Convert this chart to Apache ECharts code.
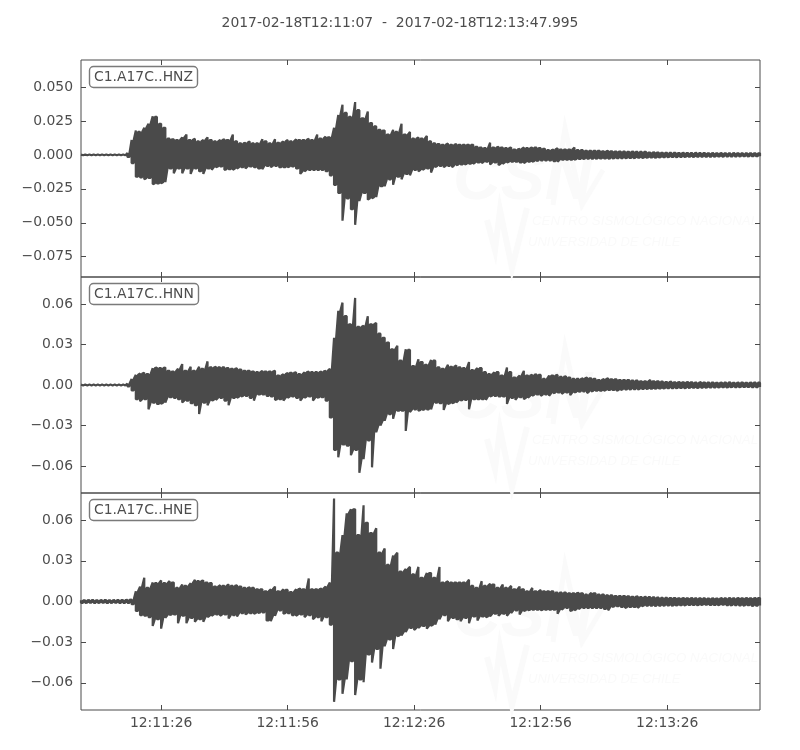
<!DOCTYPE html>
<html><head><meta charset="utf-8">
<style>html,body{margin:0;padding:0;background:#fff}#c{width:800px;height:750px}</style>
<script src="https://cdn.jsdelivr.net/npm/echarts@6/dist/echarts.min.js"></script>
</head><body><div id="c"></div>
<script>
// Upper and lower extent of each trace, one pair per second from 12:11:07, in thousandths.
const hnzUpper = [.3,.3,.3,.3,.3,.3,.3,.3,.3,.3,.3,
1.5,11,18,17,20,23,28.5,28,23,20,12,11.5,11,13,15,11,12,10,11,13,11,10,11,11.5,11,15,10,8.5,9,10,8.5,8.5,11.5,10,8.5,11.5,9,10,11,10,11.5,11,11,12,11,15,12,13.5,13,20,29.5,37,31,28,39,33,27,32,23.5,21,18.5,18,15,18.5,17,23,15,17,12,13,
12,14,10,8.5,8,7.5,8.5,7.5,8,7.5,7.5,7.5,7.5,6,5.5,5,9,5.5,6,5.5,5,5.5,4,4.5,5.5,5,5.5,5.5,5,4.5,3.5,4,5,4,4,4,5.5,3.5,3.5,3,3,3,3,2.7,3,2.7,2.5,2.5,2.4,2.3,2.5,2.2,2.2,2.3,1.8,2,1.8,1.6,1.6,1.5,1.6,1.4,1.5,1.4,1.3,1.5,1.3,1.4,1.2,1.3,1.2,1.3,1.2,1.1,1.3,1.2,1.1,1.2,1.2,1.2];
const hnzLower = [-.3,-.3,-.3,-.3,-.3,-.3,-.3,-.3,-.3,-.3,-.3,
-1.5,-6,-16,-16.5,-18,-17,-21.5,-21,-21,-20,-10,-13.5,-10,-13.5,-10,-14,-10,-12,-14,-10,-11,-9,-8.5,-11,-10.5,-11,-10,-9,-10,-8.5,-9,-10,-10.5,-8,-9,-8,-9,-9,-9,-8.5,-10,-14,-12,-11,-11,-11,-11,-12,-15,-22,-28,-48.5,-32,-40,-51.5,-34,-28,-33,-32,-31,-23,-23,-18,-22,-16,-18,-14,-15,-11,-12,
-11,-10,-13,-9,-8,-9,-8,-9,-7.5,-7,-7,-6.5,-6.5,-5.5,-6,-5,-7,-5.5,-7.5,-6.5,-5.5,-5,-5,-5.5,-6,-5,-5,-4.5,-4,-4,-4,-4.5,-5,-3.5,-3.5,-3.5,-3.5,-3,-3,-2.7,-2.7,-2.7,-2.6,-2.6,-2.7,-2.5,-2.4,-2.3,-2.3,-2.2,-2.3,-2,-2.1,-2,-1.9,-2,-1.8,-1.7,-1.6,-1.5,-1.6,-1.4,-1.5,-1.3,-1.4,-1.3,-1.2,-1.3,-1.2,-1.2,-1.1,-1.2,-1,-1.1,-1,-1,-.9,-1,-.9,-.9,-.9];
const hnnUpper = [.3,.3,.3,.3,.3,.3,.3,.3,.3,.3,.3,
1,4.5,7.5,8.5,9,8,12.5,13,12.5,13,10.5,10,12,15.5,10.5,13.5,10.5,13.5,12,17.5,13,13.5,13,13,12.5,12,12.3,11.5,10.5,10.5,10,9.5,10.5,10,10,10.5,7,8,9,9,9.5,8,9.5,10,9.5,9.5,10,10.5,12,35,55,61,51,45,64.5,43,44,51,45,46,38,35,31.5,26.5,29,18,26.5,26,14,19,
17,15,18.5,18,13,12,15,13.5,14.5,13,12.5,17,11,12.5,12.5,9.5,8,9.5,9.5,7,13,9.5,5.5,7,10.5,7,7.5,8,7.5,4.5,7,7,7.5,6,6.5,5.5,4.5,4.5,5,5.5,5,4.5,3.7,4.5,5,4.2,4.2,3.7,3.7,3.7,3.2,3.2,2.7,2.7,3.7,2.7,2.7,2.5,2.2,2.5,2,2.2,2,2.2,2,1.7,2.2,1.8,1.7,1.8,1.6,1.8,1.7,1.9,1.6,1.7,1.8,1.6,1.8,1.7];
const hnnLower = [-.3,-.3,-.3,-.3,-.3,-.3,-.3,-.3,-.3,-.3,-.3,
-1,-4,-10.5,-12,-10.5,-18,-13,-14,-14,-13,-9,-9.5,-10.5,-13,-11.5,-13.5,-15,-21.5,-13,-15,-11.5,-11,-9.5,-11.5,-15,-9.5,-9.5,-8.5,-8,-9.5,-11.5,-7,-7,-8,-8.5,-11,-10.5,-11.5,-9.5,-8.5,-9.5,-11.5,-9.5,-8.5,-11.5,-9.5,-9,-11.5,-24,-48,-53.5,-44,-45,-52,-48,-65,-55,-41,-61,-35,-30,-26.5,-21.5,-25,-19,-19,-34,-20,-18,-19,
-18.5,-18,-18,-13,-13.5,-18.5,-14,-13.5,-13,-11.5,-11,-18,-10.5,-10.5,-10.5,-11,-8.5,-8,-8.5,-8.5,-14,-9.5,-11,-9,-10.5,-9.5,-8,-7,-8,-7,-8,-6,-5.5,-6.5,-5.5,-7.5,-5.5,-5,-4.7,-6,-4.7,-4.2,-4.2,-4.2,-3.7,-3.7,-4.2,-3.7,-3.2,-3.2,-3,-3.2,-2.9,-2.8,-2.7,-2.8,-2.5,-2.6,-2.4,-2.3,-2.4,-2.2,-2.3,-2.1,-2,-2.2,-1.9,-2,-1.8,-1.7,-1.8,-1.6,-1.7,-1.6,-1.5,-1.6,-1.5,-1.4,-1.5,-1.5,-1.4];
const hneUpper = [1,.9,1.1,1,.9,1,1.1,.9,1,1,1.1,
1.2,1.5,7.5,11,17.5,10,14,13.5,15.5,13.5,15,14,10,12.5,11.5,13.5,16,15,15.5,14,13.5,11,12,11.5,12.5,11.5,12,11,10,10.5,10,9,9,7.5,9,11,7.5,9,8.5,7,9,9.5,9,17,9,9,9.5,11,14,76,36,49,65,68,68,49,71,58,50.5,54,36,39,27,34,36,22,24,25.5,20,25.5,
17.5,21,21,17.5,25.5,14,15,14,14,14,14,16,11.5,10,15,11.5,13,12.5,10,12.5,10,11.5,9,11,9,7.5,10,7.5,8.5,7.5,7.5,7.5,6.5,6.5,6.5,6,6,6.5,6,5,6.5,6,5,5,4.5,4.5,4,4,4,3.8,3.5,3.8,3.2,3.4,3.2,3,2.8,2.6,2.6,2.5,2.6,2.4,2.5,2.4,2.5,2.3,2.4,2.3,2.2,2.4,2.2,2.5,2.3,2.6,2.3,2.5,2.4,2.6,2.4,2.5];
const hneLower = [-1,-1.1,-.9,-1,-1,-.9,-1.1,-1,-.9,-1,-1,
-1,-2,-7,-10,-10.5,-11.5,-18,-13,-20,-12,-10,-9.5,-16,-10.5,-16,-12,-15,-13,-15,-11.5,-10.5,-9.5,-10.5,-9.5,-12.5,-10,-11,-8.5,-9.5,-8.5,-9,-8.5,-8,-14,-14.5,-10.5,-6.5,-9,-8.5,-10,-10.5,-9.5,-11.5,-10,-13,-11.5,-14.5,-11.5,-17,-74,-57.5,-68,-57.5,-44,-69,-57.5,-59.5,-39,-45,-35,-49.5,-33,-28,-35,-25.5,-25,-22.5,-19.5,-21,-19.5,
-18,-20,-18,-17,-13,-10,-14.5,-12,-13,-14.5,-12,-16,-11,-14,-11,-11.5,-11,-9,-10.5,-9,-10.5,-8.5,-6.5,-9.5,-7,-6.5,-6,-6,-6.5,-6,-6,-6,-9,-6,-4.7,-7,-6.5,-5.5,-4.7,-4.7,-4.7,-4.7,-4.7,-5.5,-6.5,-4,-3.5,-4,-4.7,-4,-4,-4.7,-3.5,-3,-3,-3.2,-3,-3,-2.8,-3,-2.9,-2.7,-2.8,-2.6,-2.5,-2.7,-2.5,-2.4,-2.6,-2.5,-2.7,-2.4,-2.6,-2.9,-2.6,-2.8,-3,-2.7,-3.2,-3];

const traceNames = ['C1.A17C..HNZ','C1.A17C..HNN','C1.A17C..HNE'];
const timeRange = '2017-02-18T12:11:07  -  2017-02-18T12:13:47.995';
const timeTicks = [19,49,79,109,139];
const timeLabels = ['12:11:26','12:11:56','12:12:26','12:12:56','12:13:26'];
const yTicksZ = [0.05,0.025,0,-0.025,-0.05,-0.075];
const yTicksNE = [0.06,0.03,0,-0.03,-0.06];

const INK='#4a4a4a', TEXT='#4d4d4d', FONT='"DejaVu Sans"', WM='#fafafa', FS=13.9;
const MILLI=0.001, END=160.995;
const panels=[
 {top:60,height:217,min:-0.09,max:0.07,ticks:yTicksZ,dec:3,up:hnzUpper,lo:hnzLower,boxTop:66,off:0},
 {top:277,height:216,min:-0.08,max:0.08,ticks:yTicksNE,dec:2,up:hnnUpper,lo:hnnLower,boxTop:283,off:219},
 {top:493,height:217,min:-0.08,max:0.08,ticks:yTicksNE,dec:2,up:hneUpper,lo:hneLower,boxTop:499,off:437}
];
const grid=[],xAxis=[],yAxis=[],series=[],title=[],graphic=[];
title.push({text:timeRange,left:'center',top:11,textStyle:{fontFamily:FONT,fontSize:FS,fontWeight:'normal',color:TEXT}});
panels.forEach((p,i)=>{
  grid.push({left:81,width:679,top:p.top,height:p.height,show:true,borderColor:INK,borderWidth:1,backgroundColor:'transparent'});
  const xBase={type:'value',gridIndex:i,min:0,max:END,splitLine:{show:false},axisLine:{show:false,onZero:false},
    axisTick:{show:true,inside:true,length:5,customValues:timeTicks,lineStyle:{color:INK}}};
  xAxis.push(Object.assign({},xBase,{position:'bottom',axisLabel:{show:i===2,customValues:timeTicks,margin:6,fontFamily:FONT,fontSize:FS,color:TEXT,
    formatter:v=>timeLabels[timeTicks.indexOf(v)]||''}}));
  xAxis.push(Object.assign({},xBase,{position:'top',axisLabel:{show:false}}));
  const yBase={type:'value',gridIndex:i,min:p.min,max:p.max,splitLine:{show:false},axisLine:{show:false,onZero:false},
    axisTick:{show:true,inside:true,length:5,customValues:p.ticks,lineStyle:{color:INK}}};
  yAxis.push(Object.assign({},yBase,{position:'left',axisLabel:{show:true,customValues:p.ticks,margin:8,fontFamily:FONT,fontSize:FS,color:TEXT,
    formatter:v=>(v<0?'\u2212':'')+Math.abs(v).toFixed(p.dec)}}));
  yAxis.push(Object.assign({},yBase,{position:'right',axisLabel:{show:false}}));
  // Each second's reading is a full vertical swing; between seconds the trace keeps to the smaller of the two neighbours.
  const pts=[];
  p.up.forEach((u,t)=>{
    const l=p.lo[t];
    pts.push([t,u*MILLI],[t,l*MILLI]);
    if(t+1<p.up.length){
      pts.push([t+0.5,Math.max(l,p.lo[t+1])*MILLI],[t+0.5,Math.min(u,p.up[t+1])*MILLI]);
    } else {
      pts.push([t+0.5,l*MILLI],[t+0.5,u*MILLI],[END,u*MILLI],[END,l*MILLI]);
    }
  });
  series.push({type:'line',name:traceNames[i],xAxisIndex:i*2,yAxisIndex:i*2,data:pts,showSymbol:false,symbol:'none',smooth:false,clip:true,z:3,
    animation:false,lineStyle:{color:INK,width:2.2,join:'bevel'}});
  title.push({text:traceNames[i],left:89,top:p.boxTop,padding:[4,5,3,5],borderColor:'#7a7a7a',borderWidth:1.4,borderRadius:4,backgroundColor:'#fff',
    textStyle:{fontFamily:FONT,fontSize:FS,fontWeight:'normal',color:TEXT,lineHeight:15}});
  const o=p.off;
  graphic.push(
    {type:'text',z:0,left:453,top:148+o,style:{text:'CSN',fill:WM,font:'italic bold 66px "Liberation Sans"'}},
    {type:'polyline',z:0,shape:{points:[[553,205+o],[565,128+o],[582,205+o],[603,170+o]]},style:{stroke:WM,lineWidth:5,fill:'none'}},
    {type:'polyline',z:0,shape:{points:[[487,220+o],[495,250+o],[500,210+o],[512,268+o],[527,208+o]]},style:{stroke:WM,lineWidth:6,fill:'none'}},
    {type:'text',z:0,left:532,top:215+o,style:{text:'CENTRO SISMOLÓGICO NACIONAL',fill:WM,font:'italic 13.3px "Liberation Sans"'}},
    {type:'text',z:0,left:528,top:236+o,style:{text:'UNIVERSIDAD DE CHILE',fill:WM,font:'italic 13px "Liberation Sans"'}}
  );
});
const chart=echarts.init(document.getElementById('c'),null,{renderer:'canvas'});
chart.setOption({animation:false,backgroundColor:'#fff',title,grid,xAxis,yAxis,series,graphic,tooltip:{show:false}});
</script></body></html>
